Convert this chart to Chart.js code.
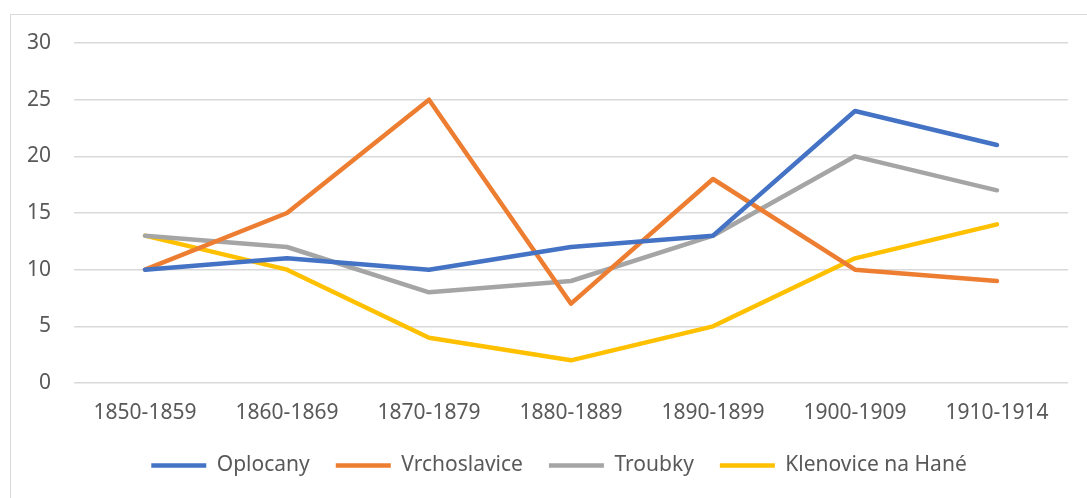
<!DOCTYPE html>
<html>
<head>
<meta charset="utf-8">
<script src="https://cdn.jsdelivr.net/npm/chart.js@4"></script>
<style>
  html, body { margin: 0; padding: 0; background: #fff; }
  #frame { position: absolute; left: 10px; top: 14px; width: 1100px; height: 500px; border: 1px solid #d9d9d9; }
  #wrap { position: absolute; left: 0; top: 0; width: 1087px; height: 498px; }
</style>
</head>
<body>
<div id="frame"></div>
<div id="wrap"><canvas id="chart"></canvas></div>
<script>
const periods = ["1850-1859", "1860-1869", "1870-1879", "1880-1889", "1890-1899", "1900-1909", "1910-1914"];

const oplocany = [10, 11, 10, 12, 13, 24, 21];
const vrchoslavice = [10, 15, 25, 7, 18, 10, 9];
const troubky = [13, 12, 8, 9, 13, 20, 17];
const klenovice = [13, 10, 4, 2, 5, 11, 14];

const yTicks = [0, 5, 10, 15, 20, 25, 30];

const textColor = "#595959";
const fontFamily = "'Noto Sans', 'Open Sans', sans-serif";

function line(label, data, color) {
  return {
    label: label,
    data: data,
    borderColor: color,
    backgroundColor: color,
    borderWidth: 4.5,
    borderCapStyle: "round",
    borderJoinStyle: "round",
    pointRadius: 0,
    pointHoverRadius: 0,
    tension: 0
  };
}

// the original frame is wider than the picture, so its legend sits right of centre
const shiftLegend = {
  id: "shiftLegend",
  afterLayout(chart) {
    chart.legend.left += 25;
    chart.legend.right += 25;
    chart.legend.top += 4;
    chart.legend.bottom += 4;
  }
};

new Chart(document.getElementById("chart"), {
  type: "line",
  data: {
    labels: periods,
    datasets: [
      line("Oplocany", oplocany, "#4472C4"),
      line("Vrchoslavice", vrchoslavice, "#ED7D31"),
      line("Troubky", troubky, "#A5A5A5"),
      line("Klenovice na Hané", klenovice, "#FFC000")
    ]
  },
  plugins: [shiftLegend],
  options: {
    responsive: true,
    maintainAspectRatio: false,
    animation: false,
    layout: { padding: { left: 0, right: 19, top: 43, bottom: 16 } },
    plugins: {
      tooltip: { enabled: false },
      legend: {
        position: "bottom",
        labels: {
          color: textColor,
          font: { family: fontFamily, size: 21 },
          usePointStyle: true,
          pointStyle: "line",
          pointStyleWidth: 55,
          padding: 26
        }
      }
    },
    scales: {
      x: {
        offset: true,
        grid: { display: false, drawTicks: false },
        border: { display: false },
        ticks: { color: textColor, font: { family: fontFamily, size: 21 }, padding: 17, maxRotation: 0 },
        afterFit: s => { s.height = 42; }
      },
      y: {
        min: 0,
        max: 30,
        afterBuildTicks: s => { s.ticks = yTicks.map(v => ({ value: v })); },
        grid: { color: "#d9d9d9", lineWidth: 1.5, drawTicks: false },
        border: { display: false },
        ticks: { color: textColor, font: { family: fontFamily, size: 21 }, padding: 23 },
        afterFit: s => { s.width = 74; }
      }
    }
  }
});
</script>
</body>
</html>
